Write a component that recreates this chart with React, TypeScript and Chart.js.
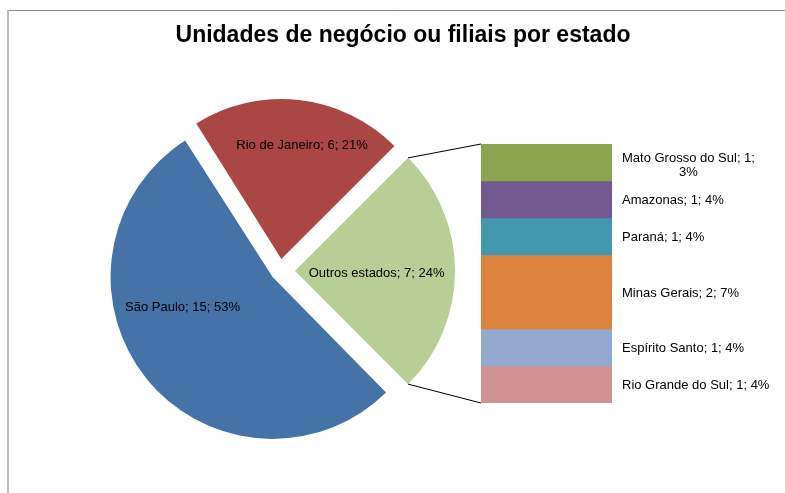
import React, { useEffect, useRef } from "react";
import { Chart, registerables } from "chart.js";

Chart.register(...registerables);

const W = 785;
const H = 493;
const FONT = "'Liberation Sans', Arial, sans-serif";

const TITLE = "Unidades de negócio ou filiais por estado";

// Pie (drawn clockwise from the rotation start)
const pieLabels = ["Outros estados", "São Paulo", "Rio de Janeiro"];
const pieValues = [7, 15, 6];
const piePercents = [24, 53, 21];
const pieColors = ["#B9CD96", "#4572A7", "#AA4643"];
const pieOffsets = [60, 38, 48];
// label placement from the exploded slice centre: angle (deg, clockwise from top), distance (fraction of radius)
const pieLabelAngles = [90, 252.6, 10.1];
const pieLabelDists = [0.51, 0.59, 0.74];

// Stacked bar (top to bottom) that breaks down "Outros estados"
const barLabels = [
  "Mato Grosso do Sul",
  "Amazonas",
  "Paraná",
  "Minas Gerais",
  "Espírito Santo",
  "Rio Grande do Sul",
];
const barValues = [1, 1, 1, 2, 1, 1];
const barPercents = [3, 4, 4, 7, 4, 4];
const barColors = ["#89A54E", "#71588F", "#4198AF", "#DB843D", "#93A9CF", "#D19392"];

const OTHER_INDEX = pieLabels.indexOf("Outros estados");

function wrapText(ctx: CanvasRenderingContext2D, text: string, maxWidth: number): string[] {
  const words = text.split(" ");
  const lines: string[] = [];
  let cur = "";
  for (const w of words) {
    const test = cur ? cur + " " + w : w;
    if (ctx.measureText(test).width > maxWidth && cur) {
      lines.push(cur);
      cur = w;
    } else {
      cur = test;
    }
  }
  if (cur) lines.push(cur);
  return lines;
}

function sliceCentre(arc: any) {
  const mid = (arc.startAngle + arc.endAngle) / 2;
  const off = (arc.options.offset || 0) / 4;
  return { x: arc.x + Math.cos(mid) * off, y: arc.y + Math.sin(mid) * off };
}

const pieDecor = {
  id: "pieDecor",
  beforeDraw(chart: any) {
    const ctx = chart.ctx;
    ctx.save();
    // frame
    ctx.strokeStyle = "#8c8c8c";
    ctx.lineWidth = 1;
    ctx.beginPath();
    ctx.moveTo(8, 10.5);
    ctx.lineTo(W, 10.5);
    ctx.stroke();
    ctx.strokeStyle = "#bdbdbd";
    ctx.lineWidth = 2;
    ctx.beginPath();
    ctx.moveTo(8, 10);
    ctx.lineTo(8, H);
    ctx.stroke();
    // title
    ctx.fillStyle = "#000";
    ctx.font = `bold 23px ${FONT}`;
    ctx.textAlign = "center";
    ctx.textBaseline = "alphabetic";
    ctx.fillText(TITLE, 403, 42);
    ctx.restore();
  },
  beforeDatasetsDraw(chart: any) {
    const meta = chart.getDatasetMeta(0);
    const ctrl = meta.controller as any;
    meta.data.forEach((arc: any) => {
      const off = (arc.options.offset || 0) / 4;
      const fix = 1 - Math.sin(Math.min(Math.PI, arc.circumference || 0));
      arc.outerRadius = ctrl.outerRadius - off * fix + (fix > 0.5 ? 2 : 0);
    });
  },
  afterDatasetsDraw(chart: any) {
    const ctx = chart.ctx;
    const meta = chart.getDatasetMeta(0);
    const R = (meta.controller as any).outerRadius;
    ctx.save();
    ctx.fillStyle = "#000";
    ctx.font = `13px ${FONT}`;
    ctx.textAlign = "center";
    ctx.textBaseline = "middle";
    meta.data.forEach((arc: any, i: number) => {
      const c = sliceCentre(arc);
      const a = ((pieLabelAngles[i] - 90) * Math.PI) / 180;
      const d = pieLabelDists[i] * R;
      const text = `${pieLabels[i]}; ${pieValues[i]}; ${piePercents[i]}%`;
      ctx.fillText(text, c.x + Math.cos(a) * d, c.y + Math.sin(a) * d + 2.5);
    });
    ctx.restore();
  },
};

export default function App() {
  const pieRef = useRef<HTMLCanvasElement | null>(null);
  const barRef = useRef<HTMLCanvasElement | null>(null);

  useEffect(() => {
    if (!pieRef.current || !barRef.current) return;
    Chart.defaults.font.family = FONT;

    const pie = new Chart(pieRef.current, {
      type: "pie",
      data: {
        labels: pieLabels,
        datasets: [
          {
            data: pieValues,
            backgroundColor: pieColors,
            borderWidth: 0,
            offset: pieOffsets,
          } as any,
        ],
      },
      options: {
        responsive: false,
        animation: false,
        events: [],
        rotation: 45,
        radius: 160,
        layout: { padding: { left: 0, right: 225, top: 49, bottom: 0 } },
        plugins: {
          legend: { display: false },
          tooltip: { enabled: false },
          title: { display: false },
        },
      } as any,
      plugins: [pieDecor as any],
    });

    const barDecor = {
      id: "barDecor",
      afterDatasetsDraw(chart: any) {
        const ctx = chart.ctx;
        ctx.save();
        ctx.fillStyle = "#000";
        ctx.font = `13px ${FONT}`;
        ctx.textBaseline = "middle";
        let top = Infinity;
        let bottom = -Infinity;
        let left = 0;
        chart.data.datasets.forEach((_: any, i: number) => {
          const bar = chart.getDatasetMeta(i).data[0] as any;
          const y0 = Math.min(bar.y, bar.base);
          const y1 = Math.max(bar.y, bar.base);
          top = Math.min(top, y0);
          bottom = Math.max(bottom, y1);
          left = bar.x - bar.width / 2;
          const textX = bar.x + bar.width / 2 + 10;
          const text = `${barLabels[i]}; ${barValues[i]}; ${barPercents[i]}%`;
          const lines = wrapText(ctx, text, 151);
          const blockW = Math.max(...lines.map((l) => ctx.measureText(l).width));
          const lh = 14;
          const cy = (y0 + y1) / 2 + 1 + (lines.length > 1 ? 2 : 0);
          lines.forEach((l, k) => {
            const ly = cy + (k - (lines.length - 1) / 2) * lh;
            ctx.textAlign = "center";
            ctx.fillText(l, textX + blockW / 2, ly);
          });
        });
        // connector lines from the "Outros estados" slice to the bar
        const arc = pie.getDatasetMeta(0).data[OTHER_INDEX] as any;
        if (arc) {
          const c = sliceCentre(arc);
          const R = arc.outerRadius;
          const p1 = { x: c.x + Math.cos(arc.startAngle) * R, y: c.y + Math.sin(arc.startAngle) * R };
          const p2 = { x: c.x + Math.cos(arc.endAngle) * R, y: c.y + Math.sin(arc.endAngle) * R };
          ctx.strokeStyle = "#000";
          ctx.lineWidth = 1;
          ctx.beginPath();
          ctx.moveTo(p1.x, p1.y);
          ctx.lineTo(left, top);
          ctx.moveTo(p2.x, p2.y);
          ctx.lineTo(left, bottom);
          ctx.stroke();
        }
        ctx.restore();
      },
    };

    const total = barValues.reduce((s, v) => s + v, 0);
    const bar = new Chart(barRef.current, {
      type: "bar",
      data: {
        labels: [""],
        datasets: barLabels.map((l, i) => ({
          label: l,
          data: [barValues[i]],
          backgroundColor: barColors[i],
          borderWidth: 0,
          barPercentage: 1,
          categoryPercentage: 1,
        })),
      },
      options: {
        responsive: false,
        animation: false,
        events: [],
        layout: { padding: { left: 481, right: 173, top: 144, bottom: 90 } },
        scales: {
          x: { display: false, stacked: true },
          y: { display: false, stacked: true, min: 0, max: total, reverse: true },
        },
        plugins: {
          legend: { display: false },
          tooltip: { enabled: false },
          title: { display: false },
        },
      } as any,
      plugins: [barDecor as any],
    });

    return () => {
      bar.destroy();
      pie.destroy();
    };
  }, []);

  const canvasStyle: React.CSSProperties = {
    position: "absolute",
    left: 0,
    top: 0,
    width: W,
    height: H,
  };

  return (
    <div style={{ position: "absolute", left: 0, top: 0, width: W, height: H, background: "#fff" }}>
      <canvas ref={pieRef} width={W} height={H} style={canvasStyle} />
      <canvas ref={barRef} width={W} height={H} style={canvasStyle} />
    </div>
  );
}
